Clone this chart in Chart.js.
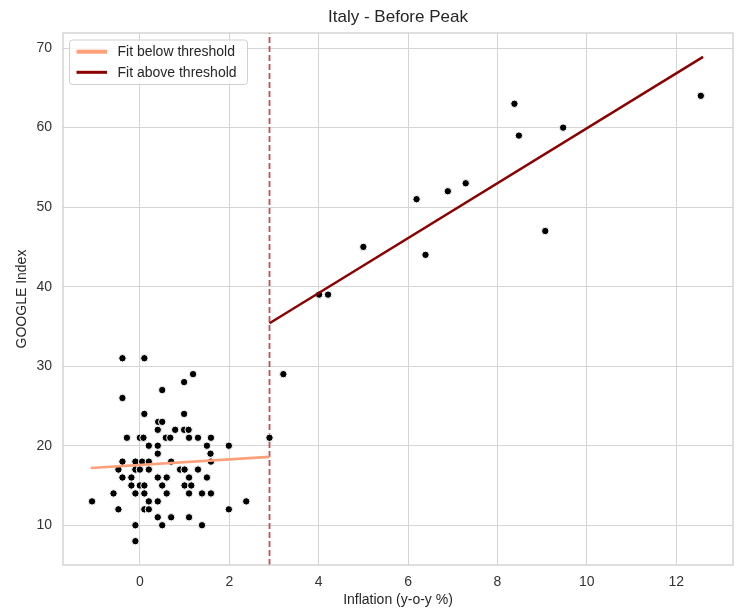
<!DOCTYPE html>
<html>
<head>
<meta charset="utf-8">
<title>Italy - Before Peak</title>
<script src="https://cdn.jsdelivr.net/npm/chart.js@4.4.0/dist/chart.umd.min.js"></script>
<style>
  html, body { margin: 0; padding: 0; background: #fff; }
  #wrap { width: 743px; height: 609px; }
</style>
</head>
<body>
<div id="wrap"><canvas id="chart" width="743" height="609"></canvas></div>
<script>
// ---- data ----
const threshold = 2.9;

// inflation <= threshold (one line per index value)
const belowX = [
  -0.39, 0.10,
  1.19,
  0.99,
  0.50,
  -0.39,
  0.10, 0.99,
  0.41, 0.50,
  0.40, 0.79, 0.99, 1.09,
  -0.29, 0.00, 0.08, 0.58, 0.68, 1.10, 1.30, 1.59, 2.90,
  0.20, 0.40, 1.50, 1.99,
  0.40, 1.58,
  -0.39, -0.10, 0.05, 0.20, 0.70, 1.59,
  -0.48, -0.10, 0.00, 0.20, 0.90, 1.00, 1.30,
  -0.39, -0.19, 0.40, 0.60, 1.10, 1.50,
  -0.19, 0.00, 0.10, 0.50, 1.00, 1.15,
  -0.59, -0.10, 0.10, 0.60, 1.10, 1.39, 1.59,
  -1.07, 0.20, 0.40, 2.38,
  -0.48, 0.10, 0.20, 1.99,
  0.40, 0.70, 1.10,
  -0.10, 0.50, 1.39,
  -0.10
];
const belowY = [
  31, 31,
  29,
  28,
  27,
  26,
  24, 24,
  23, 23,
  22, 22, 22, 22,
  21, 21, 21, 21, 21, 21, 21, 21, 21,
  20, 20, 20, 20,
  19, 19,
  18, 18, 18, 18, 18, 18,
  17, 17, 17, 17, 17, 17, 17,
  16, 16, 16, 16, 16, 16,
  15, 15, 15, 15, 15, 15,
  14, 14, 14, 14, 14, 14, 14,
  13, 13, 13, 13,
  12, 12, 12, 12,
  11, 11, 11,
  10, 10, 10,
  8
];

// inflation > threshold
const aboveX = [3.21, 4.01, 4.21, 5.00, 6.19, 6.39, 6.89, 7.29, 8.38, 8.48, 9.07, 9.47, 12.55];
const aboveY = [29, 39, 39, 45, 51, 44, 52, 53, 63, 59, 47, 60, 64];

// fitted lines (end points)
const fitBelowX = [-1.10, 2.90];
const fitBelowY = [17.2, 18.6];
const fitAboveX = [2.90, 12.60];
const fitAboveY = [35.4, 68.9];

const xTicks = [0, 2, 4, 6, 8, 10, 12];
const yTicks = [10, 20, 30, 40, 50, 60, 70];
const xRange = [-1.72, 13.27];
const yRange = [5.0, 71.9];

const toPoints = (xs, ys) => xs.map((x, i) => ({ x: x, y: ys[i] }));

const FONT = "'Liberation Sans', Arial, sans-serif";
const TEXT = '#262626';
const TICK = '#333333';
const GRID = '#d5d5d5';

// frame round the plot, like the seaborn whitegrid spines
const framePlugin = {
  id: 'frame',
  afterDatasetsDraw(chart) {
    const a = chart.chartArea, ctx = chart.ctx;
    ctx.save();
    ctx.strokeStyle = '#cccccc';
    ctx.lineWidth = 1.25;
    ctx.strokeRect(a.left, a.top, a.right - a.left, a.bottom - a.top);
    ctx.restore();
  }
};

// legend inside the plot, top left
const legendPlugin = {
  id: 'fitLegend',
  afterDraw(chart) {
    const ctx = chart.ctx, a = chart.chartArea;
    const x0 = a.left + 6.5, y0 = a.top + 7;
    ctx.save();
    ctx.beginPath();
    ctx.roundRect(x0, y0, 178, 44.5, 3);
    ctx.fillStyle = 'rgba(255,255,255,0.8)';
    ctx.fill();
    ctx.strokeStyle = '#d0d0d0';
    ctx.lineWidth = 1;
    ctx.stroke();

    const items = chart.data.datasets.filter(d => d.legendWidth);
    items.forEach((d, i) => {
      const y = y0 + 11.7 + i * 20.6;
      ctx.beginPath();
      ctx.moveTo(x0 + 7, y);
      ctx.lineTo(x0 + 37.5, y);
      ctx.strokeStyle = d.borderColor;
      ctx.lineWidth = d.legendWidth;
      ctx.lineCap = 'butt';
      ctx.stroke();
      ctx.fillStyle = TEXT;
      ctx.font = '14px ' + FONT;
      ctx.textBaseline = 'middle';
      ctx.fillText(d.label, x0 + 48, y + 0.5);
    });
    ctx.restore();
  }
};

new Chart(document.getElementById('chart'), {
  type: 'scatter',
  data: {
    datasets: [
      {
        label: 'Fit below threshold',
        type: 'line',
        data: toPoints(fitBelowX, fitBelowY),
        borderColor: '#ffa07a',
        borderWidth: 2.6,
        pointRadius: 0,
        fill: false,
        legendWidth: 4,
        order: 0
      },
      {
        label: 'Fit above threshold',
        type: 'line',
        data: toPoints(fitAboveX, fitAboveY),
        borderColor: '#8b0000',
        borderWidth: 2.4,
        pointRadius: 0,
        fill: false,
        legendWidth: 3,
        order: 0
      },
      {
        label: 'below',
        data: toPoints(belowX, belowY),
        backgroundColor: '#000',
        borderColor: '#fff',
        borderWidth: 1,
        pointRadius: 3.7,
        order: 1
      },
      {
        label: 'above',
        data: toPoints(aboveX, aboveY),
        backgroundColor: '#000',
        borderColor: '#fff',
        borderWidth: 1,
        pointRadius: 3.7,
        order: 1
      },
      {
        label: 'threshold',
        type: 'line',
        data: [{ x: threshold, y: yRange[0] }, { x: threshold, y: yRange[1] }],
        borderColor: '#c44e52',
        borderWidth: 1.8,
        borderDash: [6, 3],
        pointRadius: 0,
        fill: false,
        order: 2
      }
    ]
  },
  options: {
    responsive: false,
    animation: false,
    layout: { padding: { left: 0, right: 10, top: 0, bottom: 0 } },
    plugins: {
      legend: { display: false },
      tooltip: { enabled: false },
      title: {
        display: true,
        text: 'Italy - Before Peak',
        color: TEXT,
        fullSize: false,
        font: { family: FONT, size: 17, weight: 'normal' },
        padding: { top: 7, bottom: 5.6 }
      }
    },
    scales: {
      x: {
        type: 'linear',
        min: xRange[0],
        max: xRange[1],
        afterBuildTicks: (s) => { s.ticks = xTicks.map(v => ({ value: v })); },
        afterFit: (s) => { s.height = 44; },
        grid: { color: GRID, lineWidth: 1, drawTicks: false },
        border: { display: false },
        ticks: { color: TICK, padding: 9, font: { family: FONT, size: 14 } },
        title: {
          display: true,
          text: 'Inflation (y-o-y %)',
          color: TEXT,
          padding: { top: 1, bottom: 0 },
          font: { family: FONT, size: 14 }
        }
      },
      y: {
        type: 'linear',
        min: yRange[0],
        max: yRange[1],
        afterBuildTicks: (s) => { s.ticks = yTicks.map(v => ({ value: v })); },
        afterFit: (s) => { s.width = 63; },
        grid: { color: GRID, lineWidth: 1, drawTicks: false },
        border: { display: false },
        ticks: { color: TICK, padding: 11, font: { family: FONT, size: 14 } },
        title: {
          display: true,
          text: 'GOOGLE Index',
          color: TEXT,
          padding: { top: 13.6, bottom: 0 },
          font: { family: FONT, size: 14 }
        }
      }
    }
  },
  plugins: [framePlugin, legendPlugin]
});
</script>
</body>
</html>
